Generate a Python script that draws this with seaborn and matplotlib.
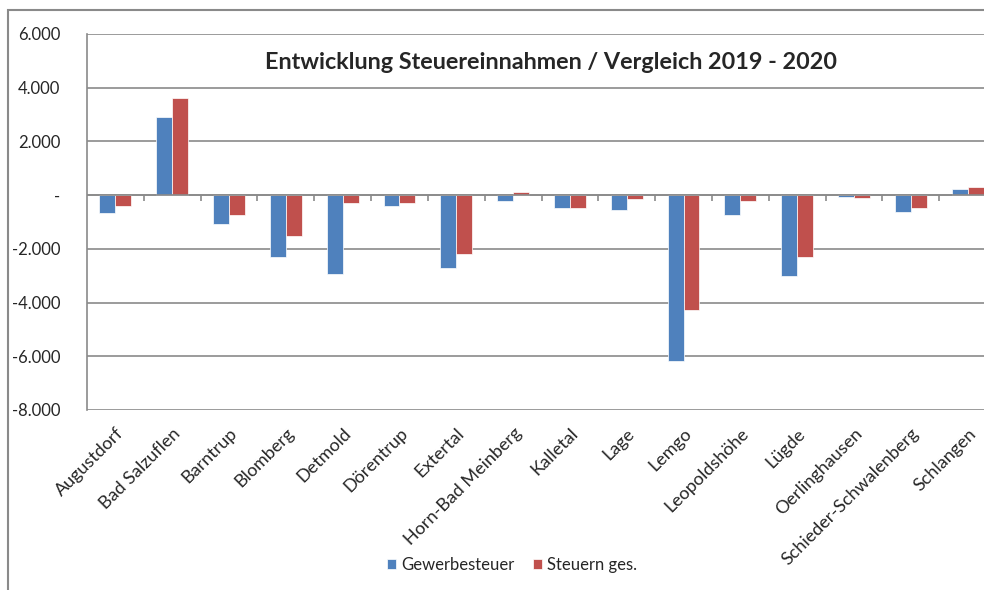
import matplotlib
matplotlib.use('Agg')
import matplotlib.pyplot as plt
from matplotlib.patches import Rectangle
import numpy as np
import pandas as pd
import seaborn as sns

# Werte
gemeinden = ['Augustdorf', 'Bad Salzuflen', 'Barntrup', 'Blomberg', 'Detmold', 'Dörentrup',
             'Extertal', 'Horn-Bad Meinberg', 'Kalletal', 'Lage', 'Lemgo', 'Leopoldshöhe',
             'Lügde', 'Oerlinghausen', 'Schieder-Schwalenberg', 'Schlangen']
gewerbesteuer = [-670, 2900, -1070, -2300, -2950, -420, -2700, -220,
                 -480, -550, -6170, -740, -3020, -85, -610, 220]
steuern_ges = [-420, 3620, -740, -1520, -290, -290, -2180, 100,
               -480, -150, -4260, -210, -2300, -100, -480, 300]
serien = ['Gewerbesteuer', 'Steuern ges.']
farben = ['#4F81BD', '#C0504D']
y_ticks = [-8000, -6000, -4000, -2000, 0, 2000, 4000, 6000]
y_labels = ['-8.000', '-6.000', '-4.000', '-2.000', '-', '2.000', '4.000', '6.000']
titel = 'Entwicklung Steuereinnahmen / Vergleich 2019 - 2020'

df = pd.DataFrame({
  'Gemeinde': gemeinden * 2,
  'Wert': gewerbesteuer + steuern_ges,
  'Serie': [serien[0]] * len(gemeinden) + [serien[1]] * len(gemeinden),
})

sns.set_style('white')
plt.rcParams['font.family'] = ['Lato', 'DejaVu Sans']
grau = '#8a8a8a'

fig = plt.figure(figsize=(9.84, 5.90), dpi=100)
W, H = 984, 590
ax = fig.add_axes([87 / W, (H - 410) / H, 909 / W, 376 / H])

sns.barplot(data=df, x='Gemeinde', y='Wert', hue='Serie', order=gemeinden,
            palette=farben, width=0.56, gap=0, saturation=1, ax=ax,
            edgecolor='white', linewidth=0.5, legend=True, zorder=3)

ax.set_xlim(-0.5, len(gemeinden) - 0.5)
ax.set_ylim(-8000, 6000)
ax.set_yticks(y_ticks)
ax.set_yticklabels(y_labels, fontsize=12)
ax.set_xlabel('')
ax.set_ylabel('')
ax.yaxis.grid(True, color=grau, linewidth=1.2, zorder=0)
ax.set_axisbelow(True)
ax.tick_params(axis='y', direction='out', length=5, width=1.2, color=grau, pad=14)
ax.tick_params(axis='x', length=0, pad=11)
for s in ['top', 'right', 'bottom']:
  ax.spines[s].set_visible(False)
ax.spines['left'].set_color(grau)
ax.spines['left'].set_linewidth(1.2)

ax.set_xticks(range(len(gemeinden)))
ax.set_xticklabels(gemeinden, rotation=45, ha='right', rotation_mode='anchor', fontsize=13)

# Nulllinie mit Kategorie-Trennstrichen
ax.axhline(0, color=grau, linewidth=1.2, zorder=4)
sec = ax.secondary_xaxis(8000 / 14000)
sec.set_xticks(np.arange(0.5, len(gemeinden) - 0.5))
sec.set_xticklabels([])
sec.tick_params(direction='in', length=4, width=1.2, color=grau,
                labeltop=False, labelbottom=False)
for s in sec.spines.values():
  s.set_visible(False)

ax.text(0.51, 0.925, titel, transform=ax.transAxes, ha='center', va='center',
        fontsize=16.8, fontweight='bold')

handles, labels = ax.get_legend_handles_labels()
ax.legend(handles, labels, loc='center', bbox_to_anchor=(512 / W, 1 - 565 / H),
          bbox_transform=fig.transFigure, ncol=2, frameon=False, fontsize=12,
          handlelength=0.55, handleheight=0.55, handletextpad=0.3, columnspacing=1.1)

fig.patches.append(Rectangle((8 / W, -0.05), 1.2, 1.05 - 10 / H, transform=fig.transFigure,
                             fill=False, edgecolor=grau, linewidth=1.5))

fig.savefig('out.png', dpi=100)
